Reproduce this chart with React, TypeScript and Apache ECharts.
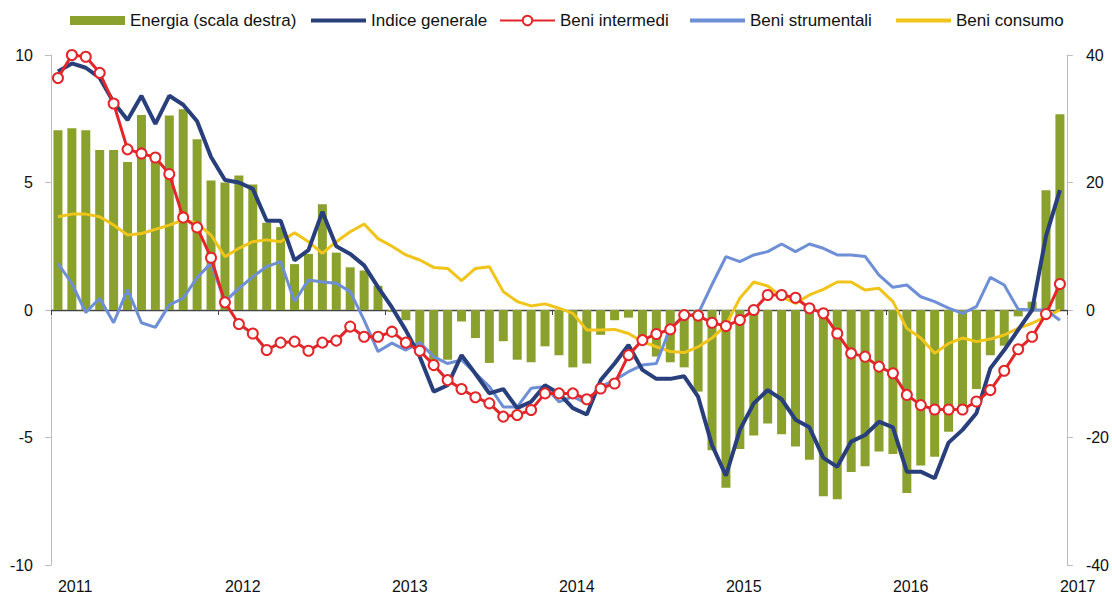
import React, { useEffect, useRef } from 'react';
import * as echarts from 'echarts';

const years = ['2011', '2012', '2013', '2014', '2015', '2016'];
const monthNums = ['01', '02', '03', '04', '05', '06', '07', '08', '09', '10', '11', '12'];
const months: string[] = [];
years.forEach((y) => monthNums.forEach((m) => months.push(y + '-' + m)));
months.push('2017-01');

const seriesNames = ['Energia (scala destra)', 'Indice generale', 'Beni intermedi', 'Beni strumentali', 'Beni consumo'];

const energia = [
  28.2, 28.5, 28.2, 25.1, 25.1, 23.2, 30.6, 23.5, 30.5, 31.5, 26.8, 20.3,
  20.0, 21.1, 19.7, 13.7, 13.0, 7.2, 8.8, 16.6, 9.0, 6.7, 6.2, 3.8,
  -0.3, -1.6, -6.5, -8.4, -7.8, -1.8, -4.4, -8.3, -4.9, -7.8, -8.2, -5.7,
  -7.1, -9.0, -8.4, -3.9, -1.6, -1.2, -4.2, -7.3, -8.2, -9.0, -12.8, -22.0,
  -27.9, -21.8, -19.7, -17.8, -19.5, -21.4, -23.5, -29.2, -29.7, -25.4, -24.5, -22.2,
  -22.6, -28.7, -24.4, -23.0, -19.1, -15.8, -12.4, -7.1, -5.6, -1.0, 1.3, 18.8,
  30.7,
];

const indiceGenerale = [
  9.35, 9.67, 9.5, 9.1, 8.15, 7.45, 8.4, 7.3, 8.4, 8.05, 7.4, 6.0,
  5.1, 5.0, 4.75, 3.5, 3.5, 1.95, 2.35, 3.85, 2.5, 2.2, 1.75, 0.9,
  0.1, -0.8, -1.83, -3.2, -2.95, -1.77, -2.5, -3.27, -3.1, -3.85, -3.6, -2.95,
  -3.27, -3.85, -4.1, -2.75, -2.1, -1.37, -2.35, -2.7, -2.7, -2.6, -3.4, -5.3,
  -6.5, -4.7, -3.66, -3.14, -3.5, -4.3, -4.6, -5.8, -6.15, -5.16, -4.9, -4.38,
  -4.6, -6.34, -6.34, -6.6, -5.2, -4.7, -4.05, -2.29, -1.57, -0.78, 0.0, 2.9,
  4.7,
];

const beniIntermedi = [
  9.1, 10.0, 9.93, 9.3, 8.1, 6.3, 6.14, 5.98, 5.33, 3.63, 3.24, 2.05,
  0.3, -0.55, -0.92, -1.57, -1.28, -1.24, -1.6, -1.28, -1.2, -0.65, -1.05, -1.05,
  -0.85, -1.28, -1.6, -2.16, -2.75, -3.1, -3.42, -3.66, -4.18, -4.12, -3.92, -3.27,
  -3.27, -3.27, -3.5, -3.08, -2.88, -1.77, -1.18, -0.94, -0.76, -0.2, -0.22, -0.5,
  -0.63, -0.39, 0.0, 0.59, 0.59, 0.48, 0.07, -0.13, -0.92, -1.7, -1.83, -2.22,
  -2.48, -3.33, -3.73, -3.9, -3.9, -3.9, -3.59, -3.14, -2.38, -1.54, -1.05, -0.16,
  1.02,
];

const beniStrumentali = [
  1.83, 1.04, -0.1, 0.46, -0.5, 0.8, -0.5, -0.68, 0.2, 0.46, 1.28, 1.83,
  0.33, 0.85, 1.3, 1.7, 1.9, 0.33, 1.18, 1.1, 1.05, 0.72, -0.4, -1.63,
  -1.3, -1.57, -1.28, -1.83, -2.1, -1.96, -2.48, -3.0, -3.8, -3.8, -3.07, -3.0,
  -3.6, -3.4, -3.66, -3.0, -2.75, -2.42, -2.16, -2.1, -0.7, -0.25, -0.15, 1.0,
  2.09, 1.9, 2.16, 2.29, 2.59, 2.29, 2.59, 2.42, 2.16, 2.16, 2.1, 1.37,
  0.89, 0.98, 0.52, 0.33, 0.07, -0.13, 0.13, 1.28, 0.98, 0.03, 0.0, 0.0,
  -0.4,
];

const beniConsumo = [
  3.66, 3.76, 3.76, 3.66, 3.33, 2.94, 3.0, 3.16, 3.33, 3.53, 3.4, 2.94,
  2.09, 2.42, 2.68, 2.75, 2.68, 3.03, 2.68, 2.22, 2.68, 3.07, 3.37, 2.8,
  2.5, 2.16, 1.96, 1.67, 1.63, 1.15, 1.63, 1.7, 0.72, 0.33, 0.16, 0.24,
  0.07, -0.13, -0.78, -0.78, -0.76, -0.92, -1.24, -1.44, -1.63, -1.67, -1.45, -1.1,
  -0.59, 0.46, 1.1, 0.94, 0.52, 0.26, 0.59, 0.81, 1.1, 1.1, 0.78, 0.85,
  0.33, -0.72, -1.1, -1.7, -1.31, -1.1, -1.24, -1.14, -0.98, -0.72, -0.52, -0.26,
  0.0,
];

const FONT = "'Liberation Sans', Arial, sans-serif";
const AXIS_GREY = '#bdbdbd';

export default function App() {
  const ref = useRef<HTMLDivElement>(null);

  useEffect(() => {
    if (!ref.current) return;
    const chart = echarts.init(ref.current, undefined, { renderer: 'svg' });
    const isJan = (i: number) => i % 12 === 0;
    const legendText = { fontFamily: FONT, fontSize: 17, color: '#111' };
    const legendPositions = [70, 311, 499, 690, 896];
    const legendIcons: (string | undefined)[] = ['rect', 'rect', undefined, 'rect', 'rect'];
    const legendHeights = [9, 4, 12, 4, 4];

    chart.setOption({
      animation: false,
      textStyle: { fontFamily: FONT },
      grid: { left: 51, right: 44, top: 55, bottom: 31, containLabel: false },
      legend: seriesNames.map((name, k) => {
        const item: any = { name };
        if (legendIcons[k]) item.icon = legendIcons[k];
        return {
          data: [item],
          left: legendPositions[k],
          top: 12,
          itemWidth: 55,
          itemHeight: legendHeights[k],
          itemGap: 0,
          padding: 0,
          textStyle: legendText,
          selectedMode: false,
        };
      }),
      xAxis: [
        {
          type: 'category',
          data: months,
          position: 'bottom',
          boundaryGap: true,
          axisLine: { show: false, onZero: false },
          axisTick: { show: false },
          splitLine: { show: false },
          axisLabel: {
            interval: (i: number) => isJan(i),
            formatter: (v: string) => v.slice(0, 4),
            align: 'left',
            margin: 13,
            fontFamily: FONT,
            fontSize: 16,
            color: '#111',
          },
        },
        {
          type: 'category',
          data: months,
          position: 'bottom',
          boundaryGap: true,
          axisLine: { show: true, onZero: true, onZeroAxisIndex: 0, lineStyle: { color: '#444', width: 1.3 } },
          axisTick: { show: true, interval: (i: number) => isJan(i), length: 5, lineStyle: { color: '#444', width: 1 } },
          axisLabel: { show: false },
          splitLine: { show: false },
        },
      ],
      yAxis: [
        {
          type: 'value',
          position: 'left',
          min: -10,
          max: 10,
          interval: 5,
          axisLine: { show: true, lineStyle: { color: AXIS_GREY, width: 1 } },
          axisTick: { show: true, length: 6, lineStyle: { color: AXIS_GREY } },
          splitLine: { show: false },
          axisLabel: { margin: 18, fontFamily: FONT, fontSize: 16, color: '#111' },
        },
        {
          type: 'value',
          position: 'right',
          min: -40,
          max: 40,
          interval: 20,
          axisLine: { show: true, lineStyle: { color: AXIS_GREY, width: 1 } },
          axisTick: { show: true, length: 6, lineStyle: { color: AXIS_GREY } },
          splitLine: { show: false },
          axisLabel: { margin: 19, fontFamily: FONT, fontSize: 16, color: '#111' },
        },
      ],
      series: [
        {
          name: seriesNames[0],
          type: 'bar',
          xAxisIndex: 0,
          yAxisIndex: 1,
          data: energia,
          barWidth: 9,
          itemStyle: { color: '#8aa12d' },
          z: 1,
        },
        {
          name: seriesNames[4],
          type: 'line',
          xAxisIndex: 0,
          yAxisIndex: 0,
          data: beniConsumo,
          symbol: 'none',
          lineStyle: { color: '#f0c419', width: 3 },
          itemStyle: { color: '#f0c419' },
          z: 3,
        },
        {
          name: seriesNames[3],
          type: 'line',
          xAxisIndex: 0,
          yAxisIndex: 0,
          data: beniStrumentali,
          symbol: 'none',
          lineStyle: { color: '#6e8fd6', width: 3 },
          itemStyle: { color: '#6e8fd6' },
          z: 4,
        },
        {
          name: seriesNames[1],
          type: 'line',
          xAxisIndex: 0,
          yAxisIndex: 0,
          data: indiceGenerale,
          symbol: 'none',
          lineStyle: { color: '#283f7c', width: 4 },
          itemStyle: { color: '#283f7c' },
          z: 5,
        },
        {
          name: seriesNames[2],
          type: 'line',
          xAxisIndex: 0,
          yAxisIndex: 0,
          data: beniIntermedi,
          symbol: 'circle',
          symbolSize: 10,
          showSymbol: true,
          showAllSymbol: true,
          lineStyle: { color: '#e3262a', width: 3 },
          itemStyle: { color: '#ffffff', borderColor: '#e3262a', borderWidth: 2 },
          z: 6,
        },
      ],
    });

    return () => chart.dispose();
  }, []);

  return (
    <div
      ref={ref}
      style={{ position: 'absolute', left: 0, top: 0, width: 1112, height: 596, background: '#fff' }}
    />
  );
}
